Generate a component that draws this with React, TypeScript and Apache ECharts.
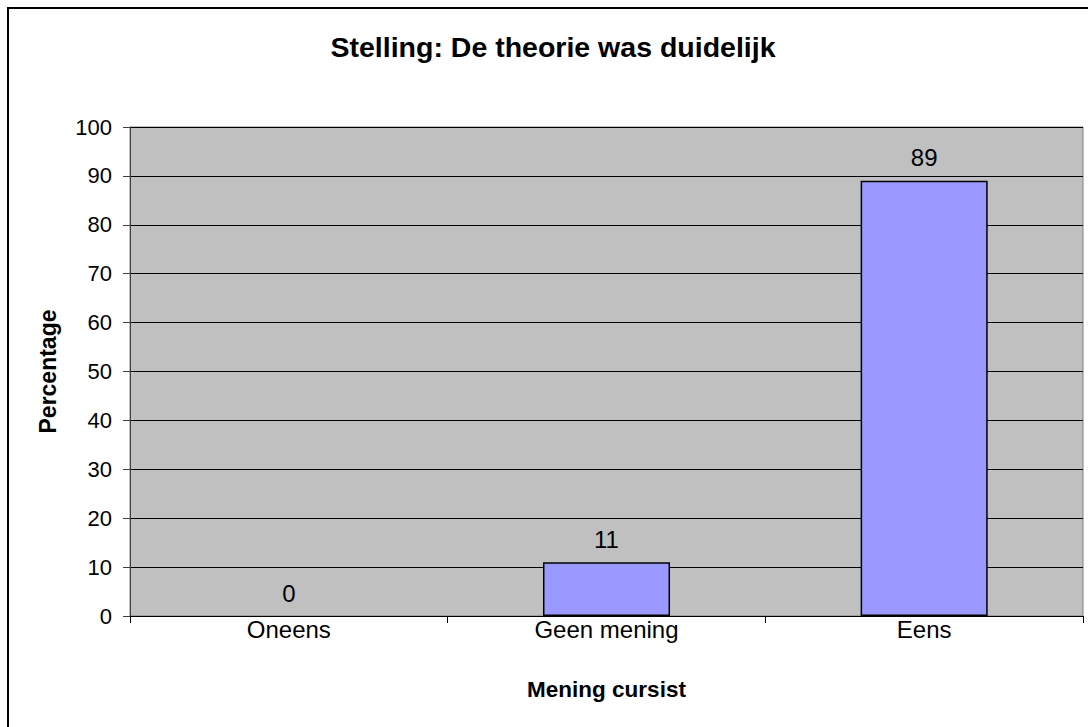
import React, { useEffect, useRef } from "react";
import * as echarts from "echarts";

const titleText = "Stelling: De theorie was duidelijk";
const categories = ["Oneens", "Geen mening", "Eens"];
const percentages = [0, 11, 89];
const yTicks = { min: 0, max: 100, interval: 10 };
const xName = "Mening cursist";
const yName = "Percentage";

const FONT = '"Liberation Sans", Arial, sans-serif';

export default function App() {
  const ref = useRef<HTMLDivElement>(null);
  useEffect(() => {
    if (!ref.current) return;
    const chart = echarts.init(ref.current, null, { renderer: "svg" });
    chart.setOption({
      animation: false,
      backgroundColor: "#ffffff",
      graphic: [
        {
          type: "rect",
          shape: { x: 8, y: 8, width: 2000, height: 2000 },
          style: { fill: "none", stroke: "#000", lineWidth: 2 },
          z: 100,
        },
        {
          type: "text",
          x: 553,
          y: 47,
          style: {
            text: titleText,
            fontFamily: FONT,
            fontWeight: "bold",
            fontSize: 28.5,
            fill: "#000",
            textAlign: "center",
            textVerticalAlign: "middle",
          },
        },
      ],
      grid: {
        left: 130,
        top: 127,
        right: 5,
        bottom: 111,
        show: true,
        backgroundColor: "#C0C0C0",
        borderColor: "#808080",
        borderWidth: 1,
      },
      xAxis: {
        type: "category",
        data: categories,
        name: xName,
        nameLocation: "middle",
        nameGap: 62,
        nameTextStyle: { fontFamily: FONT, fontWeight: "bold", fontSize: 22.5, color: "#000" },
        axisLine: { lineStyle: { color: "#000", width: 1 } },
        axisTick: { show: true, length: 7, lineStyle: { color: "#000" } },
        axisLabel: { margin: 1, fontFamily: FONT, fontSize: 24, color: "#000" },
      },
      yAxis: {
        type: "value",
        min: yTicks.min,
        max: yTicks.max,
        interval: yTicks.interval,
        name: yName,
        nameLocation: "middle",
        nameGap: 71,
        nameTextStyle: { fontFamily: FONT, fontWeight: "bold", fontSize: 23, color: "#000" },
        axisLine: { show: true, lineStyle: { color: "#404040", width: 1 } },
        axisTick: { show: true, length: 7, lineStyle: { color: "#404040" } },
        axisLabel: { margin: 18, fontFamily: FONT, fontSize: 22, color: "#000" },
        splitLine: { show: true, lineStyle: { color: "#000", width: 1 } },
      },
      series: [
        {
          type: "bar",
          data: percentages.map((v) => ({
            value: v,
            itemStyle: v === 0 ? { borderWidth: 0 } : undefined,
          })),
          barWidth: "40%",
          itemStyle: { color: "#9999FF", borderColor: "#000", borderWidth: 1.5 },
          label: {
            show: true,
            position: "top",
            distance: 11,
            fontFamily: FONT,
            fontSize: 24,
            color: "#000",
          },
        },
      ],
    });
    return () => chart.dispose();
  }, []);
  return (
    <div
      ref={ref}
      style={{ position: "fixed", left: 0, top: 0, width: 1088, height: 727 }}
    />
  );
}
